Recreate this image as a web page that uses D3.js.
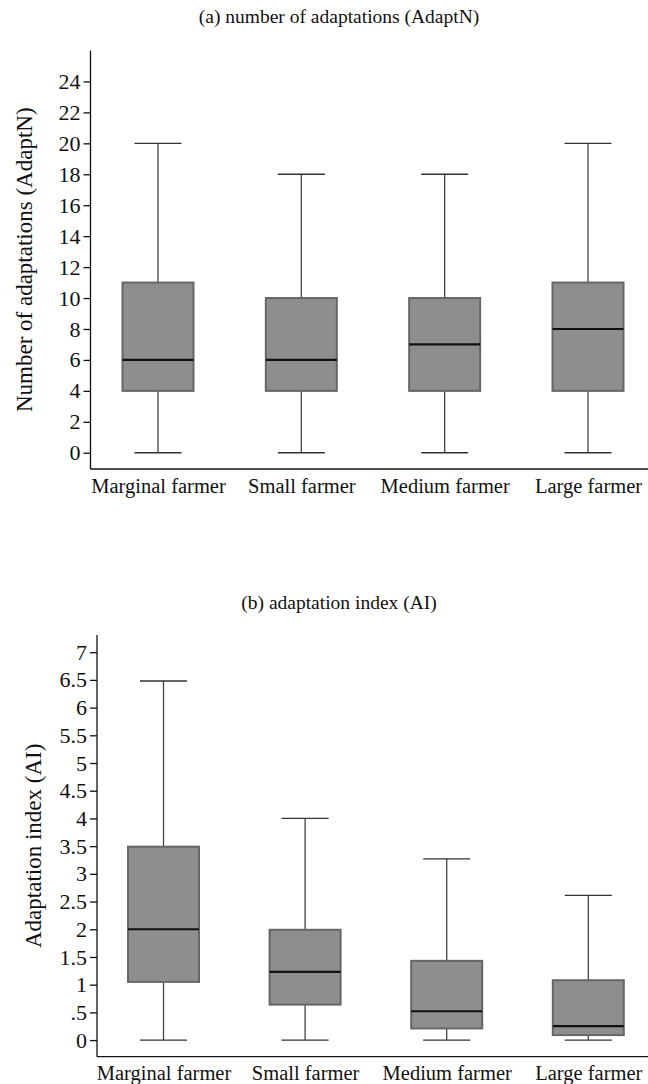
<!DOCTYPE html>
<html>
<head>
    <meta charset="utf-8">
    <title>farmer adaptation box plots</title>
    <style>
    body { margin: 0; background: white; }
    svg, svg text { font-family: "Liberation Serif", "Times New Roman", Times, "DejaVu Serif", serif !important; }
    text { fill: #111; }
    .box { fill: #8e8e8e; stroke: #666; stroke-width: 2; }
    .whisk { stroke: #444; stroke-width: 1.3; }
    .cap { stroke: #333; stroke-width: 1.3; }
    .med { stroke: #111; stroke-width: 2.2; }
    .axis path, .axis line { stroke: #111; stroke-width: 1.3; }
    </style>
</head>
<body>
    <svg width="648" height="1084"></svg>
    <script src="https://d3js.org/d3.v7.min.js" type="text/javascript"></script>
    <script>
        var farmers = ["Marginal farmer", "Small farmer", "Medium farmer", "Large farmer"];

        // (a) number of adaptations
        var adaptnLow  = [0, 0, 0, 0];
        var adaptnQ1   = [4, 4, 4, 4];
        var adaptnMed  = [6, 6, 7, 8];
        var adaptnQ3   = [11, 10, 10, 11];
        var adaptnHigh = [20, 18, 18, 20];
        var adaptnTicks = [0, 2, 4, 6, 8, 10, 12, 14, 16, 18, 20, 22, 24];

        // (b) adaptation index
        var aiLow  = [0, 0, 0, 0];
        var aiQ1   = [1.05, 0.64, 0.21, 0.09];
        var aiMed  = [2.0, 1.23, 0.52, 0.25];
        var aiQ3   = [3.49, 1.99, 1.43, 1.08];
        var aiHigh = [6.48, 4.0, 3.27, 2.61];
        var aiTicks = [0, 0.5, 1, 1.5, 2, 2.5, 3, 3.5, 4, 4.5, 5, 5.5, 6, 6.5, 7];

        var FONT = "'Liberation Serif', 'Times New Roman', Times, 'DejaVu Serif', serif";
        var svg = d3.select("svg").attr("font-family", FONT);
        var W = 648;

        function panel(p) {
            var g = svg.append("g");
            var x = d3.scalePoint().domain(farmers).range(p.xr);
            var y = d3.scaleLinear().domain(p.yd).range(p.yr);
            var rows = farmers.map(function(f, i) {
                return {f: f, lo: p.lo[i], q1: p.q1[i], md: p.md[i], q3: p.q3[i], hi: p.hi[i]};
            });

            g.append("text")
                .attr("x", p.titleX).attr("y", p.titleY)
                .attr("text-anchor", "middle")
                .attr("font-family", FONT)
                .style("font-size", "19.5px")
                .text(p.title);

            // y axis
            var ya = g.append("g").attr("class", "axis")
                .attr("transform", "translate(" + p.ax + ",0)")
                .call(d3.axisLeft(y).tickValues(p.ticks).tickSize(7).tickPadding(3).tickFormat(p.fmt));
            ya.attr("font-family", FONT);
            ya.select(".domain").attr("d", "M0," + p.yr[0] + "V" + p.yr[1]);
            ya.selectAll("text").style("font-size", "22px").attr("fill", "#111");

            // x axis: plain line + category labels
            var xa = g.append("g").attr("class", "axis")
                .attr("transform", "translate(0," + p.yr[0] + ")")
                .call(d3.axisBottom(x).tickSize(0).tickPadding(9));
            xa.attr("font-family", FONT);
            xa.select(".domain").attr("d", "M" + p.ax + ",0H" + W);
            xa.selectAll("text").style("font-size", "20.5px").attr("fill", "#111");

            g.append("text")
                .attr("transform", "translate(" + p.labX + "," + (p.yr[0] + p.yr[1]) / 2 + ") rotate(-90)")
                .attr("text-anchor", "middle")
                .attr("font-family", FONT)
                .style("font-size", "23px")
                .text(p.ylabel);

            var bw = 71, cw = 47;
            var b = g.selectAll(".bx").data(rows).enter().append("g");
            b.append("line").attr("class", "whisk")
                .attr("x1", d => x(d.f)).attr("x2", d => x(d.f))
                .attr("y1", d => y(d.q3)).attr("y2", d => y(d.hi));
            b.append("line").attr("class", "whisk")
                .attr("x1", d => x(d.f)).attr("x2", d => x(d.f))
                .attr("y1", d => y(d.q1)).attr("y2", d => y(d.lo));
            b.append("line").attr("class", "cap")
                .attr("x1", d => x(d.f) - cw / 2).attr("x2", d => x(d.f) + cw / 2)
                .attr("y1", d => y(d.hi)).attr("y2", d => y(d.hi));
            b.append("line").attr("class", "cap")
                .attr("x1", d => x(d.f) - cw / 2).attr("x2", d => x(d.f) + cw / 2)
                .attr("y1", d => y(d.lo)).attr("y2", d => y(d.lo));
            b.append("rect").attr("class", "box")
                .attr("x", d => x(d.f) - bw / 2).attr("width", bw)
                .attr("y", d => y(d.q3)).attr("height", d => y(d.q1) - y(d.q3));
            b.append("line").attr("class", "med")
                .attr("x1", d => x(d.f) - bw / 2).attr("x2", d => x(d.f) + bw / 2)
                .attr("y1", d => y(d.md)).attr("y2", d => y(d.md));
        }

        panel({
            title: "(a)  number of adaptations (AdaptN)", titleX: 339, titleY: 23,
            ylabel: "Number of adaptations (AdaptN)", labX: 32,
            ax: 90.5, xr: [158, 588], yd: [-1.05, 26], yr: [469, 50.5],
            ticks: adaptnTicks, fmt: d3.format("d"),
            lo: adaptnLow, q1: adaptnQ1, md: adaptnMed, q3: adaptnQ3, hi: adaptnHigh
        });

        panel({
            title: "(b)  adaptation index (AI)", titleX: 339, titleY: 609,
            ylabel: "Adaptation index (AI)", labX: 41,
            ax: 97, xr: [163.5, 588.3], yd: [-0.3, 7.31], yr: [1056.7, 635],
            ticks: aiTicks, fmt: d => String(d).replace(/^0\./, "."),
            lo: aiLow, q1: aiQ1, md: aiMed, q3: aiQ3, hi: aiHigh
        });
    </script>
</body>
</html>
